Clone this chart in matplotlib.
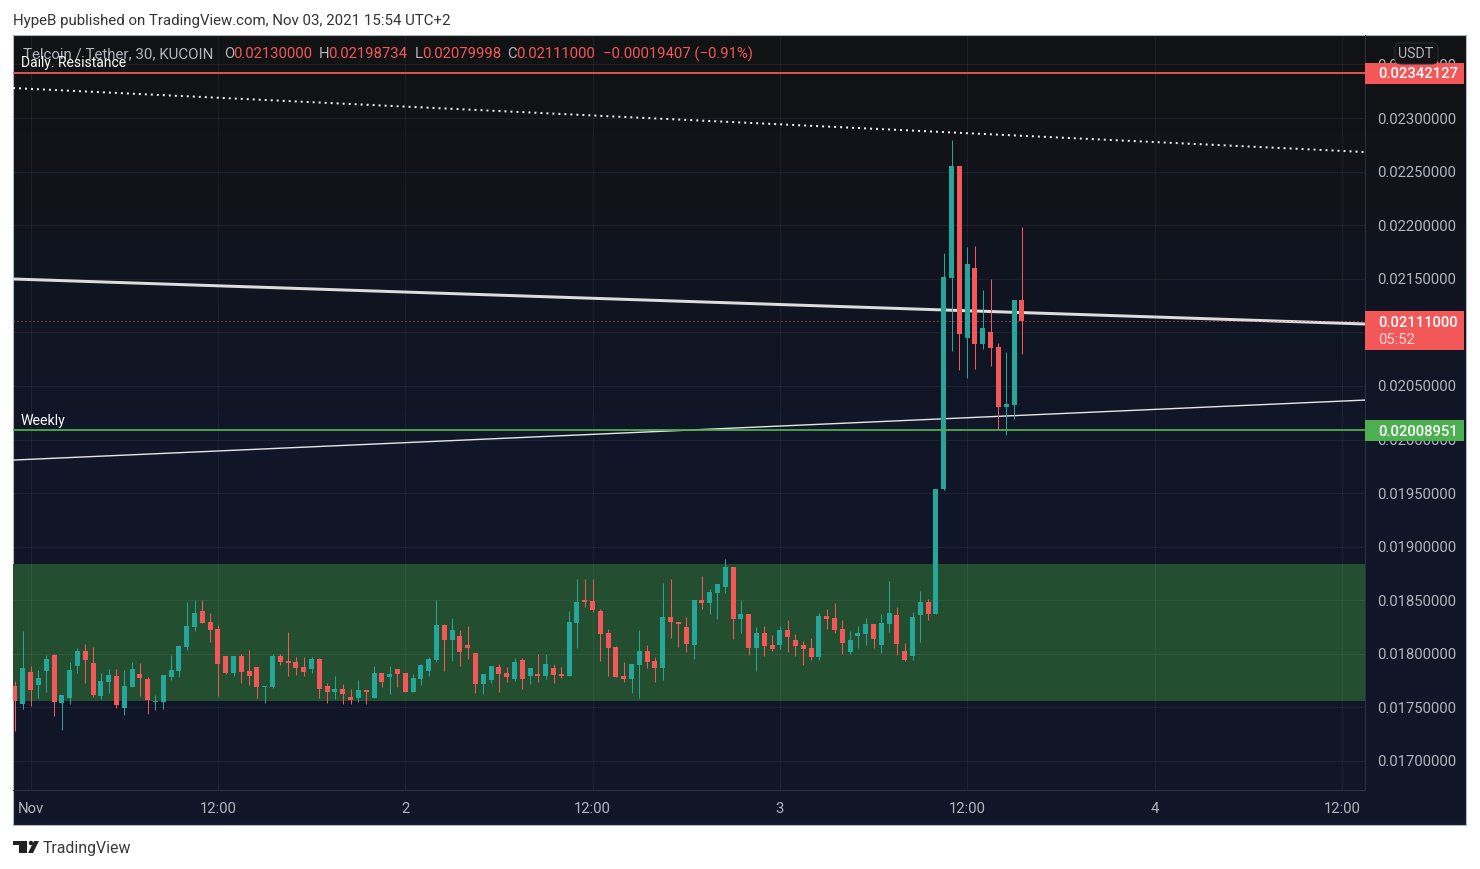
import numpy as np
import matplotlib
matplotlib.use("Agg")
import matplotlib.pyplot as plt
from matplotlib.colors import LinearSegmentedColormap
from matplotlib.patches import FancyBboxPatch, Circle, Polygon
from matplotlib.transforms import IdentityTransform

# OHLC in millionths of USDT; first candle starts two bars before Nov 1 00:00
opens = [17699,17531,17830,17708,17839,17988,17541,17587,17886,18026,17914,17606,17736,17792,17494,17690,17811,17764,17550,17550,
         17783,17839,18063,18250,18399,18296,18231,17979,17820,17979,17839,17877,17690,17690,17980,17933,17924,17877,17858,17952,
         17700,17644,17672,17597,17588,17662,17588,17821,17784,17858,17821,17644,17765,17840,17942,18269,18129,18166,18082,18008,
         17718,17755,17876,17820,17764,17942,17792,17811,17792,17867,17811,17792,18287,18502,18492,18399,18194,18063,17792,17764,
         17895,18026,17932,17867,18343,18296,18250,18082,18502,18474,18568,18624,18810,18325,18372,18054,18194,18082,18082,18222,
         18129,18082,18054,17970,18353,18334,18232,18017,18166,18185,18278,18082,18278,18362,18026,17980,18362,18484,18372,19538,
         21507,22552,20947,21600,20891,21003,20863,20303,20322,21300]
highs = [17746,18212,17886,17848,17988,17998,17615,17923,18054,18091,18063,17820,17858,17858,17848,17923,17914,17783,17615,17802,
         17988,18082,18483,18502,18502,18380,18268,17979,17979,17998,18035,17877,17700,17998,17998,18204,17970,17970,17970,17961,
         17728,17793,17718,17672,17756,17662,17886,17821,17886,17858,17821,17812,17905,17970,18502,18278,18334,18222,18260,18008,
         17811,17886,17904,17876,17960,17960,17867,17998,17998,17904,17876,18399,18698,18698,18698,18418,18231,18072,17923,17904,
         18222,18082,17970,18660,18698,18296,18343,18502,18726,18604,18652,18885,18810,18502,18372,18250,18260,18176,18260,18316,
         18185,18120,18148,18381,18418,18474,18316,18213,18260,18334,18278,18372,18680,18437,18101,18390,18586,18512,19538,
         21740,22795,22552,21796,21805,21395,21498,20900,20816,21302,21987]
lows = [17279,17485,17513,17587,17643,17419,17289,17531,17820,17727,17597,17578,17634,17494,17429,17690,17606,17438,17475,17485,
        17755,17783,18035,18212,18287,18110,17606,17811,17792,17727,17708,17588,17541,17681,17896,17793,17802,17793,17821,17588,
        17541,17578,17532,17532,17550,17532,17588,17690,17625,17690,17644,17644,17709,17793,17924,17840,17933,17886,17952,17634,
        17625,17727,17643,17736,17746,17671,17718,17736,17764,17727,17774,17792,18054,18436,18390,17932,17792,17783,17736,17634,
        17587,17867,17736,17755,18147,18063,18016,17951,18418,18371,18325,18568,18138,18194,17989,17840,17980,18026,18045,18017,
        17980,17896,17942,17942,18232,18194,17998,17998,18054,18082,18054,18008,18204,17989,17933,17942,18110,18316,18371,19530,
        20826,20648,20574,20658,20844,20686,20088,20042,20191,20800]
closes = [17559,17867,17662,17774,17951,17550,17615,17848,18026,17942,17615,17746,17802,17522,17699,17858,17774,17569,17559,17802,
          17848,18072,18259,18380,18287,18222,17904,17820,17979,17830,17792,17690,17700,17980,17924,17914,17868,17830,17952,17672,
          17644,17672,17625,17569,17662,17644,17821,17737,17812,17812,17644,17774,17896,17952,18269,18129,18222,18017,18054,17718,
          17811,17886,17811,17783,17923,17764,17867,17792,17904,17802,17792,18296,18483,18483,18408,18184,18054,17783,17764,17904,
          18026,17923,17867,18343,18296,18278,18091,18502,18474,18576,18652,18810,18325,18372,18054,18194,18073,18045,18222,18157,
          18073,18045,17970,18353,18325,18222,18101,18129,18194,18278,18138,18288,18381,18092,17942,18344,18484,18372,19538,21516,
          22552,20984,21638,20891,21040,20854,20303,20331,21302,21110]

y_ticks = [0.0170,0.0175,0.0180,0.0185,0.0190,0.0195,0.0200,0.0205,0.0210,0.0215,0.0220,0.0225,0.0230,0.0235]
y_tick_labels = ["0.01700000","0.01750000","0.01800000","0.01850000","0.01900000","0.01950000","0.02000000",
                 "0.02050000","0.02100000","0.02150000","0.02200000","0.02250000","0.02300000","0.02350000"]
x_ticks = [0,24,48,72,96,120,144,168]
x_tick_labels = ["Nov","12:00","2","12:00","3","12:00","4","12:00"]

zone_low, zone_high = 0.017559, 0.018838
resistance = 0.02342127
weekly = 0.02008951
last_price = 0.02111000
dotted_trend = [0.023280, 0.022683]
thick_trend = [0.021498, 0.021078]
thin_trend = [0.019808, 0.020368]

W, H = 1480, 869
L, R, T, B = 13, 1365, 35, 790
PR, PB = 1466, 825
x0 = -2.255; x1 = 170.97
y_top = 0.023775; y_bot = 0.016729

GREEN, RED = "#26a69a", "#f45757"
LABEL = "#b2b5be"
FONT = "Roboto"

def fx(x): return x / W
def fy(y): return 1 - y / H
px = 0.72

fig = plt.figure(figsize=(W / 100, H / 100), dpi=100, facecolor="white")
plt.rcParams["font.family"] = FONT

# panel background gradient
bg = fig.add_axes([fx(L), fy(PB), fx(PR - L), fy(T) - fy(PB)], zorder=0)
cmap = LinearSegmentedColormap.from_list("p", ["#121213", "#101628", "#101728"])
bg.imshow(np.linspace(0, 1, 256).reshape(-1, 1), aspect="auto", cmap=cmap, vmin=0, vmax=1)
bg.set_xticks([]); bg.set_yticks([])
for s in bg.spines.values():
    s.set_color("#b4b6bd"); s.set_linewidth(1.1 * px)

ax = fig.add_axes([fx(L), fy(B), fx(R - L), fy(T) - fy(B)], zorder=1)
ax.patch.set_alpha(0)
ax.set_xlim(x0, x1); ax.set_ylim(y_bot, y_top)
ax.yaxis.tick_right()
ax.set_yticks(y_ticks, y_tick_labels)
ax.set_xticks(x_ticks, x_tick_labels)
ax.tick_params(axis="y", length=0, pad=9.0, labelsize=10.7, labelcolor=LABEL)
ax.tick_params(axis="x", length=0, pad=8.8, labelsize=10.7, labelcolor=LABEL)
ax.grid(True, color="#ffffff", alpha=0.055, linewidth=1 * px, zorder=2)
ax.set_axisbelow(False)
for s in ["top", "left"]:
    ax.spines[s].set_visible(False)
for s in ["right", "bottom"]:
    ax.spines[s].set_color("#2c3040"); ax.spines[s].set_linewidth(1 * px)

ax.axhspan(zone_low, zone_high, color="#244e30", lw=0, zorder=1)

ends = [x0, x1]
ax.plot(ends, dotted_trend, color="#f0f0f0", lw=2 * px, ls=(0, (1, 2)), zorder=3)
ax.plot(ends, thick_trend, color="#dcdcdc", lw=3 * px, zorder=3, solid_capstyle="butt")
ax.plot(ends, thin_trend, color="#e4e4e4", lw=1.4 * px, zorder=3)
ax.axhline(last_price, color=RED, lw=1 * px, ls=(0, (1, 3)), zorder=3)

o, h, l, c = [np.array(v) / 1e6 for v in (opens, highs, lows, closes)]
xs = np.arange(len(o)) - 2
colors = [GREEN if ci >= oi else RED for oi, ci in zip(o, c)]
ax.vlines(xs, l, h, colors=colors, lw=1 * px, zorder=4)
ax.bar(xs, np.abs(c - o), bottom=np.minimum(o, c), width=5 / 7.8, color=colors, lw=0, zorder=4)

ax.axhline(resistance, color="#f25a5a", lw=1.8 * px, zorder=5)
ax.axhline(weekly, color="#4caf50", lw=1.8 * px, zorder=5)

def T_(x, y, s, color="white", size=10.0, ha="left", weight="normal", alpha=1):
    return fig.text(fx(x), fy(y), s, color=color, fontsize=size, ha=ha, va="center",
                    fontweight=weight, alpha=alpha, zorder=10, family=FONT)

# legend line
T_(23, 54.5, "Telcoin / Tether, 30, KUCOIN", LABEL, 10.9)
for lx, s, vx, v in [(224, "O", 233, "0.02130000"), (319, "H", 328, "0.02198734"),
                     (415, "L", 422, "0.02079998"), (507, "C", 516, "0.02111000")]:
    T_(lx, 54.5, s, LABEL, 10.7)
    T_(vx, 54.5, v, RED, 10.7)
T_(603, 54.5, "\u22120.00019407 (\u22120.91%)", RED, 10.7)
T_(21, 63, "Daily. Resistance", "white", 10.0)
T_(21, 421, "Weekly", "white", 10.2)

# price tags
def tag(y0, y1, color):
    fig.add_artist(FancyBboxPatch((fx(R), fy(y1)), fx(99), fy(y0) - fy(y1),
                                  boxstyle="square,pad=0", transform=fig.transFigure,
                                  facecolor=color, edgecolor="none", zorder=8))
tag(63, 84, "#f45757")
tag(311, 350, "#f45757")
tag(420, 441, "#4caf50")
T_(1378, 74, "0.02342127", "white", 10.7, weight="medium")
T_(1378, 323, "0.02111000", "white", 10.7, weight="medium")
T_(1378, 340.5, "05:52", "#ffd9d9", 10.7)
T_(1378, 432, "0.02008951", "white", 10.7, weight="medium")

# currency badge
fig.add_artist(FancyBboxPatch((fx(1395), fy(64)), fx(43), fy(43) - fy(64),
                              boxstyle="round,pad=0,rounding_size=0.004", mutation_aspect=1.7,
                              transform=fig.transFigure, facecolor="#131316",
                              edgecolor="#2a2e39", lw=1 * px, zorder=9))
T_(1416, 54, "USDT", LABEL, 10.2, ha="center")

# page text
T_(13, 21, "HypeB published on TradingView.com, Nov 03, 2021 15:54 UTC+2", "#333333", 10.8)
T_(43, 848.5, "TradingView", "#3a3a3a", 11.4)

# footer logo
LOGO = "#222222"
fig.add_artist(Polygon([(fx(13), fy(841)), (fx(27), fy(841)), (fx(27), fy(853)), (fx(19), fy(853)),
                        (fx(19), fy(845)), (fx(13), fy(845))], closed=True,
                       transform=fig.transFigure, facecolor=LOGO, edgecolor="none"))
fig.add_artist(Polygon([(fx(34), fy(841)), (fx(39), fy(841)), (fx(33), fy(853)), (fx(28), fy(853))], closed=True,
                       transform=fig.transFigure, facecolor=LOGO, edgecolor="none"))
fig.add_artist(Circle((31, H - 843), 2.2, transform=IdentityTransform(), facecolor=LOGO, edgecolor="none"))

fig.savefig("out.png", dpi=100, facecolor="white")
